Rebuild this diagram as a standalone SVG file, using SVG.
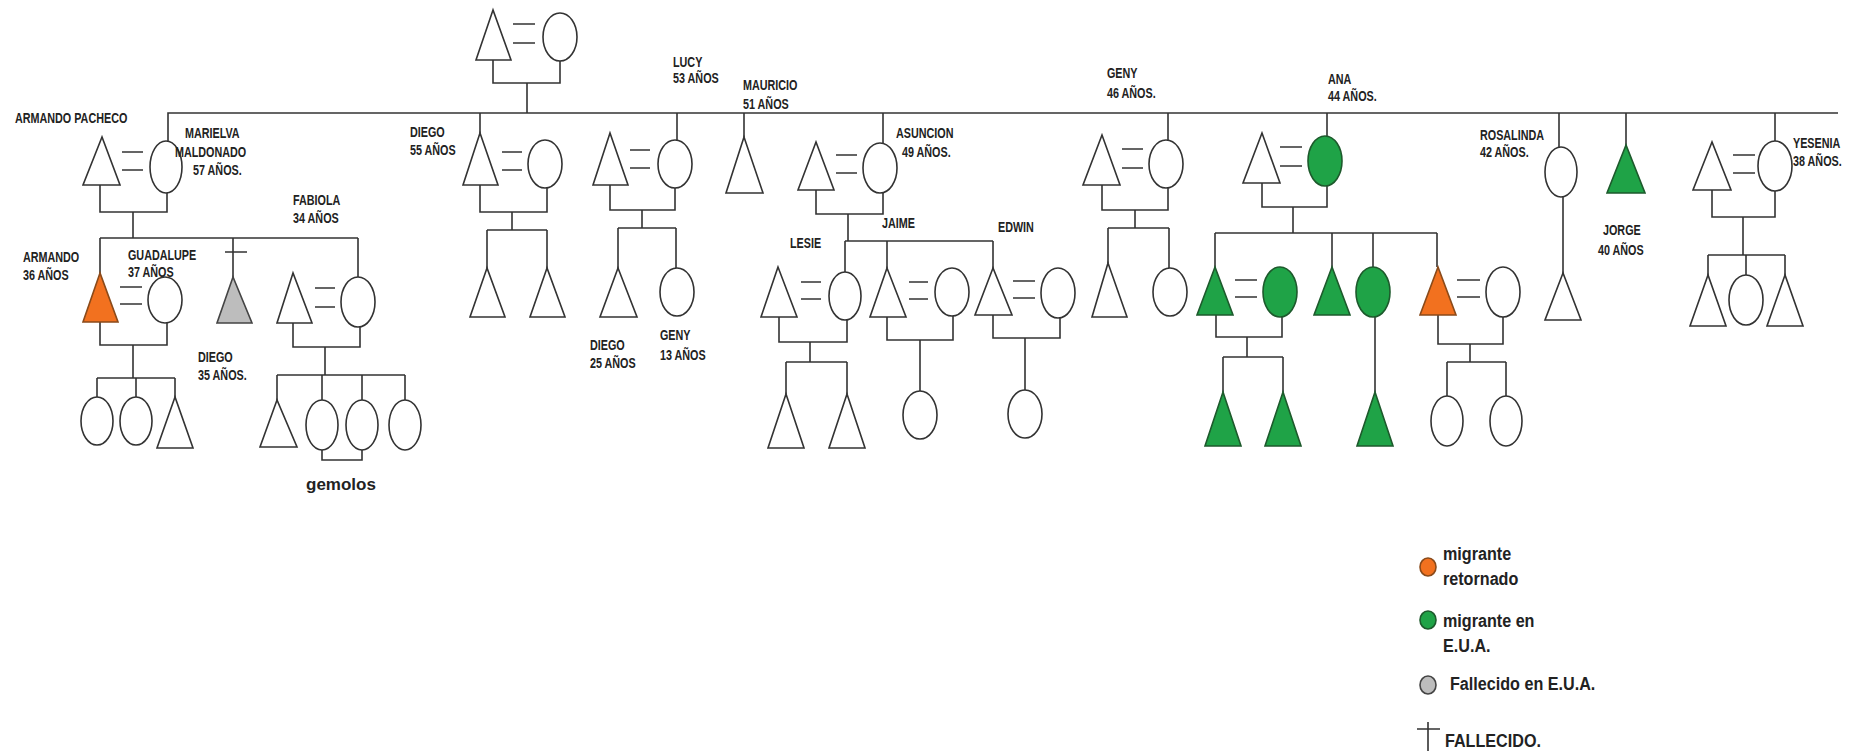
<svg xmlns="http://www.w3.org/2000/svg" width="1859" height="751" viewBox="0 0 1859 751">
<style>
.ln{stroke:#333;stroke-width:1.6;fill:none}
.sh{fill:#fff;stroke:#333;stroke-width:1.6}
.gr{fill:#1fa347;stroke:#1d5a2c;stroke-width:1.6}
.or{fill:#f2711f;stroke:#8a4a1a;stroke-width:1.6}
.gy{fill:#bdbdbd;stroke:#444;stroke-width:1.6}
text{font-family:"Liberation Sans Narrow","Liberation Sans",Arial,sans-serif;fill:#222;transform-box:fill-box;transform-origin:0 0}
.lb{font-size:14px;font-weight:bold;transform:scaleX(0.77)}
.lg{font-size:19px;font-weight:bold;transform:scaleX(0.85)}
</style>
<rect width="1859" height="751" fill="#fff"/>
<g id="connectors">
<path class="ln" d="M168,141 V113 H1838"/>
<path class="ln" d="M493,60 V83 H560 V61 M527,83 V113"/>
<path class="ln" d="M122,152 H143 M122,170 H143 M513,24 H535 M513,43 H535"/>
<path class="ln" d="M100,185 V212 H167 V193 M133,212 V238 M100,238 H358"/>
<path class="ln" d="M100,238 V273 M233,238 V277 M225,252 H247 M358,238 V277"/>
<path class="ln" d="M120,287 H142 M120,304 H142 M100,322 V345 H167 V323 M133,345 V378 M97,378 H175 M97,378 V397 M136,378 V397 M175,378 V397"/>
<path class="ln" d="M315,288 H335 M315,307 H335 M293,323 V347 H360 V327 M325,347 V375 M277,375 H405 M277,375 V400 M322,375 V400 M362,375 V400 M405,375 V400 M322,450 V460 H362 V450"/>
<path class="ln" d="M480,113 V133 M502,152 H522 M502,170 H522 M480,185 V212 H547 V188 M512,212 V230 M487,230 H547 M487,230 V268 M547,230 V268"/>
<path class="ln" d="M677,113 V140 M630,150 H650 M630,168 H650 M610,185 V210 H675 V188 M642,210 V228 M618,228 H676 M618,228 V268 M676,228 V268"/>
<path class="ln" d="M744,113 V137"/>
<path class="ln" d="M883,113 V143 M836,155 H857 M836,173 H857 M816,190 V214 H883 V193 M848,214 V241 M845,241 H993 M845,241 V272 M887,241 V268 M993,241 V268"/>
<path class="ln" d="M801,282 H821 M801,299 H821 M779,317 V342 H847 V320 M810,342 V362 M786,362 H847 M786,362 V394 M847,362 V394"/>
<path class="ln" d="M909,282 H928 M909,299 H928 M887,317 V340 H953 V316 M920,340 V391"/>
<path class="ln" d="M1013,281 H1035 M1013,298 H1035 M993,315 V338 H1060 V318 M1025,338 V390"/>
<path class="ln" d="M1168,113 V140 M1122,149 H1143 M1122,168 H1143 M1102,185 V210 H1168 V188 M1135,210 V228 M1108,228 H1169 M1108,228 V263 M1169,228 V268"/>
<path class="ln" d="M1327,113 V136 M1280,147 H1302 M1280,166 H1302 M1262,183 V207 H1327 V186 M1293,207 V233 M1215,233 H1437 M1215,233 V267 M1332,233 V267 M1373,233 V267 M1437,233 V267"/>
<path class="ln" d="M1235,280 H1257 M1235,297 H1257 M1216,315 V337 H1282 V317 M1247,337 V357 M1223,357 H1283 M1223,357 V392 M1283,357 V392 M1375,317 V392"/>
<path class="ln" d="M1457,280 H1480 M1457,297 H1480 M1438,315 V344 H1503 V317 M1470,344 V362 M1447,362 H1506 M1447,362 V396 M1506,362 V396"/>
<path class="ln" d="M1559,113 V147 M1563,197 V273 M1626,113 V145"/>
<path class="ln" d="M1775,113 V141 M1733,155 H1755 M1733,173 H1755 M1712,190 V217 H1775 V191 M1743,217 V255 M1708,255 H1785 M1708,255 V275 M1746,255 V275 M1785,255 V275"/>
</g>
<g id="top-couple"><polygon class="sh" points="493,10 476,60 511,60"/><ellipse class="sh" cx="560" cy="37" rx="17" ry="24"/></g>
<g id="armando-pacheco"><polygon class="sh" points="102,137 83,185 120,185"/><text class="lb" x="15" y="123">ARMANDO PACHECO</text></g>
<g id="marielva"><ellipse class="sh" cx="166" cy="167" rx="16" ry="26"/><text class="lb" x="185" y="138">MARIELVA</text><text class="lb" x="175" y="157">MALDONADO</text><text class="lb" x="193" y="175">57 AÑOS.</text></g>
<g id="armando"><polygon class="or" points="100,273 83,322 118,322"/><text class="lb" x="23" y="262">ARMANDO</text><text class="lb" x="23" y="280">36 AÑOS</text></g>
<g id="guadalupe"><ellipse class="sh" cx="165" cy="300" rx="17" ry="23"/><text class="lb" x="128" y="260">GUADALUPE</text><text class="lb" x="128" y="277">37 AÑOS</text></g>
<g id="armando-children"><ellipse class="sh" cx="97" cy="421" rx="16" ry="24"/><ellipse class="sh" cx="136" cy="421" rx="16" ry="24"/><polygon class="sh" points="175,397 157,448 193,448"/></g>
<g id="diego-35"><polygon class="gy" points="233,277 217,323 252,323"/><text class="lb" x="198" y="362">DIEGO</text><text class="lb" x="198" y="380">35 AÑOS.</text></g>
<g id="fabiola-husband"><polygon class="sh" points="293,273 277,323 312,323"/></g>
<g id="fabiola"><ellipse class="sh" cx="358" cy="302" rx="17" ry="25"/><text class="lb" x="293" y="205">FABIOLA</text><text class="lb" x="293" y="223">34 AÑOS</text></g>
<g id="fabiola-children"><polygon class="sh" points="277,400 260,447 297,447"/><ellipse class="sh" cx="322" cy="425" rx="16" ry="25"/><ellipse class="sh" cx="362" cy="425" rx="16" ry="25"/><ellipse class="sh" cx="405" cy="425" rx="16" ry="25"/><text x="306" y="490" style="font-size:17px;font-weight:bold">gemolos</text></g>
<g id="diego-55"><polygon class="sh" points="480,133 463,185 498,185"/><ellipse class="sh" cx="545" cy="164" rx="17" ry="24"/><text class="lb" x="410" y="137">DIEGO</text><text class="lb" x="410" y="155">55 AÑOS</text></g>
<g id="diego-55-children"><polygon class="sh" points="487,268 470,317 505,317"/><polygon class="sh" points="547,268 530,317 565,317"/></g>
<g id="lucy"><polygon class="sh" points="610,133 593,185 628,185"/><ellipse class="sh" cx="675" cy="164" rx="17" ry="24"/><text class="lb" x="673" y="67">LUCY</text><text class="lb" x="673" y="83">53 AÑOS</text></g>
<g id="lucy-children"><polygon class="sh" points="618,268 600,317 637,317"/><ellipse class="sh" cx="677" cy="292" rx="17" ry="24"/><text class="lb" x="590" y="350">DIEGO</text><text class="lb" x="590" y="368">25 AÑOS</text><text class="lb" x="660" y="340">GENY</text><text class="lb" x="660" y="360">13 AÑOS</text></g>
<g id="mauricio"><polygon class="sh" points="744,137 726,193 763,193"/><text class="lb" x="743" y="90">MAURICIO</text><text class="lb" x="743" y="109">51 AÑOS</text></g>
<g id="asuncion"><polygon class="sh" points="816,142 798,190 834,190"/><ellipse class="sh" cx="880" cy="168" rx="17" ry="25"/><text class="lb" x="896" y="138">ASUNCION</text><text class="lb" x="902" y="157">49 AÑOS.</text></g>
<g id="lesie"><polygon class="sh" points="778,267 761,317 797,317"/><ellipse class="sh" cx="845" cy="296" rx="16" ry="24"/><text class="lb" x="790" y="248">LESIE</text></g>
<g id="lesie-children"><polygon class="sh" points="786,394 768,448 804,448"/><polygon class="sh" points="847,394 829,448 865,448"/></g>
<g id="jaime"><polygon class="sh" points="887,268 870,317 906,317"/><ellipse class="sh" cx="952" cy="292" rx="17" ry="24"/><text class="lb" x="882" y="228">JAIME</text><ellipse class="sh" cx="920" cy="415" rx="17" ry="24"/></g>
<g id="edwin"><polygon class="sh" points="993,268 975,315 1012,315"/><ellipse class="sh" cx="1058" cy="293" rx="17" ry="25"/><text class="lb" x="998" y="232">EDWIN</text><ellipse class="sh" cx="1025" cy="414" rx="17" ry="24"/></g>
<g id="geny-46"><polygon class="sh" points="1102,135 1083,185 1120,185"/><ellipse class="sh" cx="1166" cy="164" rx="17" ry="24"/><text class="lb" x="1107" y="78">GENY</text><text class="lb" x="1107" y="98">46 AÑOS.</text></g>
<g id="geny-children"><polygon class="sh" points="1108,263 1092,317 1127,317"/><ellipse class="sh" cx="1170" cy="292" rx="17" ry="24"/></g>
<g id="ana"><polygon class="sh" points="1262,133 1243,183 1280,183"/><ellipse class="gr" cx="1325" cy="161" rx="17" ry="25"/><text class="lb" x="1328" y="84">ANA</text><text class="lb" x="1328" y="101">44 AÑOS.</text></g>
<g id="ana-children"><polygon class="gr" points="1215,267 1197,315 1233,315"/><ellipse class="gr" cx="1280" cy="292" rx="17" ry="25"/><polygon class="gr" points="1332,267 1314,315 1350,315"/><ellipse class="gr" cx="1373" cy="292" rx="17" ry="25"/><polygon class="or" points="1438,267 1420,315 1456,315"/><ellipse class="sh" cx="1503" cy="292" rx="17" ry="25"/></g>
<g id="ana-grandchildren"><polygon class="gr" points="1223,392 1205,446 1241,446"/><polygon class="gr" points="1283,392 1265,446 1301,446"/><polygon class="gr" points="1375,392 1357,446 1393,446"/><ellipse class="sh" cx="1447" cy="421" rx="16" ry="25"/><ellipse class="sh" cx="1506" cy="421" rx="16" ry="25"/></g>
<g id="rosalinda"><ellipse class="sh" cx="1561" cy="172" rx="16" ry="25"/><polygon class="sh" points="1563,273 1545,320 1581,320"/><text class="lb" x="1480" y="140">ROSALINDA</text><text class="lb" x="1480" y="157">42 AÑOS.</text></g>
<g id="jorge"><polygon class="gr" points="1626,145 1607,193 1645,193"/><text class="lb" x="1603" y="235">JORGE</text><text class="lb" x="1598" y="255">40 AÑOS</text></g>
<g id="yesenia"><polygon class="sh" points="1712,142 1693,190 1731,190"/><ellipse class="sh" cx="1775" cy="166" rx="17" ry="25"/><text class="lb" x="1793" y="148">YESENIA</text><text class="lb" x="1793" y="166">38 AÑOS.</text></g>
<g id="yesenia-children"><polygon class="sh" points="1708,275 1690,326 1726,326"/><ellipse class="sh" cx="1746" cy="300" rx="17" ry="25"/><polygon class="sh" points="1785,275 1767,326 1803,326"/></g>
<g id="legend">
<ellipse class="or" cx="1428" cy="567" rx="8" ry="9"/><text class="lg" x="1443" y="560">migrante</text><text class="lg" x="1443" y="585">retornado</text>
<ellipse class="gr" cx="1428" cy="620" rx="8" ry="9"/><text class="lg" x="1443" y="627">migrante en</text><text class="lg" x="1443" y="652">E.U.A.</text>
<ellipse class="gy" cx="1428" cy="685" rx="8" ry="9"/><text class="lg" x="1450" y="690">Fallecido en E.U.A.</text>
<path class="ln" d="M1428,722 V751 M1417,729 H1440"/><text class="lg" x="1445" y="747">FALLECIDO.</text>
</g>
</svg>
